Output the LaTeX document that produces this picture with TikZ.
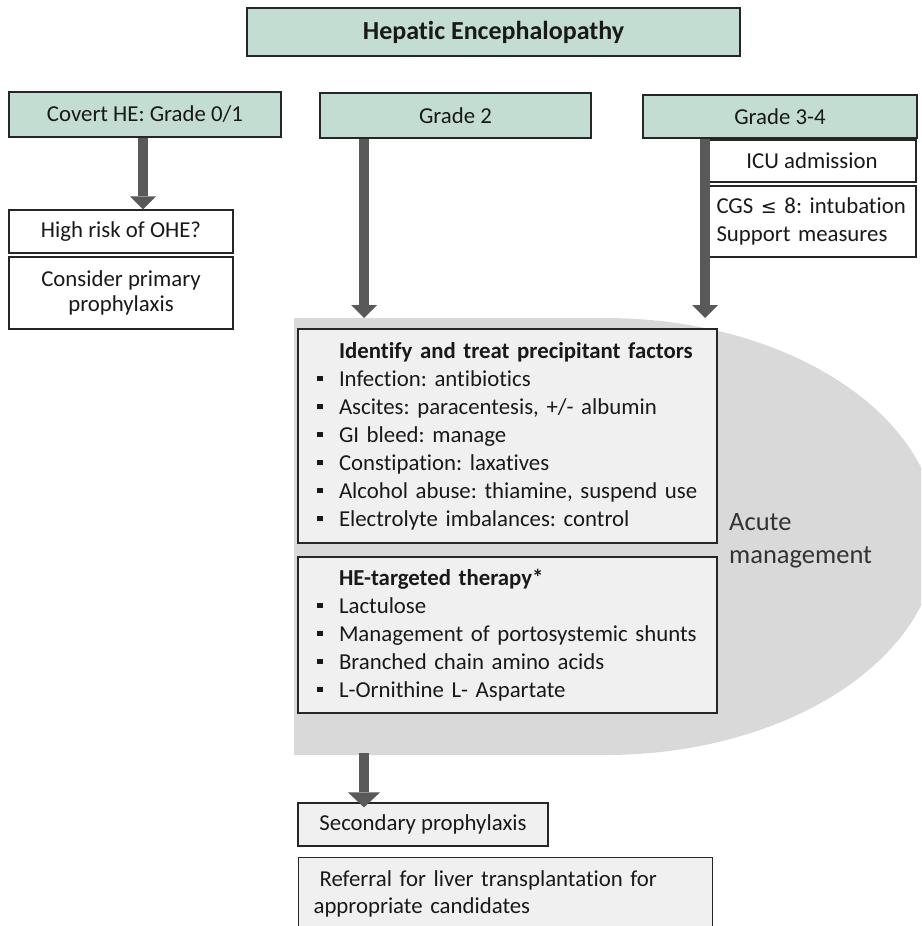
\documentclass[tikz,border=0pt]{standalone}
\usepackage{fontspec}
\setmainfont{Carlito}[Ligatures={NoCommon}]
\newfontfamily\symfont{DejaVu Sans}
\usetikzlibrary{arrows.meta}
\definecolor{tealfill}{RGB}{195,221,210}
\definecolor{boxgray}{RGB}{240,240,240}
\definecolor{shapegray}{RGB}{217,217,217}
\definecolor{arrowgray}{RGB}{89,89,89}
\newcommand{\bul}{\hspace*{19pt}\makebox[22pt][l]{\rule[0.22em]{5.5pt}{5.5pt}}}
\newcommand{\hd}[1]{\hspace*{41pt}\textbf{#1}}
\frenchspacing
\begin{document}
\begin{tikzpicture}[x=1pt,y=1pt,
  basebox/.style={draw=black!85, line width=1.2pt, inner sep=0pt,
    font=\fontsize{22.8}{27}\selectfont, text=black!90, align=center},
  gradebox/.style={basebox, fill=tealfill},
  whitebox/.style={basebox, fill=white},
  graybox/.style={basebox, fill=boxgray},
  bigarrow/.style={draw=arrowgray, line width=9.5pt,
    -{Triangle[width=26pt,length=13pt,line width=0pt]}}
]
\clip (0,0) rectangle (921,-926);
\fill[white] (0,0) rectangle (921,-926);

% gray acute-management shape
\fill[shapegray] (294,-318) -- (605,-318)
  arc[start angle=90, end angle=-90, x radius=333, y radius=218.5]
  -- (294,-755) -- cycle;
\coordinate (acutetop) at (0,-318);
\coordinate (acutebot) at (0,-753);

% title and grades
\node[gradebox, minimum width=493pt, minimum height=48pt, line width=1.6pt,
  font=\fontsize{26}{30}\selectfont\bfseries] (title) at (493.5,-32) {Hepatic Encephalopathy};
\node[gradebox, minimum width=272pt, minimum height=45pt] (covert) at (145,-114.5) {Covert HE: Grade 0/1};
\node[gradebox, minimum width=271pt, minimum height=45pt] (g2) at (455.5,-115.5) {Grade 2};
\node[gradebox, minimum width=274pt, minimum height=43pt] (g34) at (780,-116.5) {Grade 3-4};

% left column
\node[whitebox, minimum width=224pt, minimum height=43pt] (hr) at (121,-231.5) {High risk of OHE?};
\node[whitebox, minimum width=224pt, minimum height=72pt,
  font=\fontsize{22.8}{25}\selectfont] (cons) at (121,-293) {Consider primary\\prophylaxis};

% right column
\node[whitebox, minimum width=208pt, minimum height=42pt] (icu) at (812,-161) {ICU admission};
\node[whitebox, minimum height=71pt, text width=199pt, inner xsep=4.5pt, align=left,
  font=\fontsize{22.8}{28}\selectfont] (cgs) at (812,-221.5)
  {\hspace*{4pt}CGS {\symfont\fontsize{19}{28}\selectfont ≤} 8: intubation\\\hspace*{4pt}Support measures};

% central boxes
\node[graybox, minimum height=214pt, text width=419pt, align=left,
  font=\fontsize{22.8}{28}\selectfont] (prec) at (507.5,-436) {%
\hd{Identify and treat precipitant factors}\\
\bul Infection: antibiotics\\
\bul Ascites: paracentesis, +/- albumin\\
\bul GI bleed: manage\\
\bul Constipation: laxatives\\
\bul Alcohol abuse: thiamine, suspend use\\
\bul Electrolyte imbalances: control};
\node[graybox, minimum height=156pt, text width=419pt, align=left,
  font=\fontsize{22.8}{28}\selectfont] (hetx) at (507.5,-635) {%
\hd{HE-targeted therapy*}\\
\bul Lactulose\\
\bul Management of portosystemic shunts\\
\bul Branched chain amino acids\\
\bul L-Ornithine L- Aspartate};

\node[font=\fontsize{26.5}{33}\selectfont, text=black!80, align=left, anchor=west,
  inner sep=0pt] (acute) at (729,-541) {Acute\\management};

% bottom
\node[graybox, minimum width=250pt, minimum height=43pt] (sec) at (423,-824.5) {Secondary prophylaxis};
\node[graybox, anchor=north west, minimum height=73pt, text width=384pt, inner xsep=15pt,
  align=left] (ref) at (298,-857) {\hspace*{6pt}Referral for liver transplantation for\\appropriate candidates};

% arrows
\coordinate (ax1) at (143,0);
\coordinate (ax2) at (364,0);
\coordinate (ax3) at (705,0);
\draw[bigarrow] (ax1 |- covert.south) -- (ax1 |- hr.north);
\draw[bigarrow] (ax2 |- g2.south) -- (ax2 |- acutetop);
\draw[bigarrow] (ax3 |- g34.south) -- (ax3 |- acutetop);
\draw[bigarrow, -{Triangle[width=32pt,length=15pt,line width=0pt]}, shorten >=-5pt]
  (ax2 |- acutebot) -- (ax2 |- sec.north);
\end{tikzpicture}
\end{document}
